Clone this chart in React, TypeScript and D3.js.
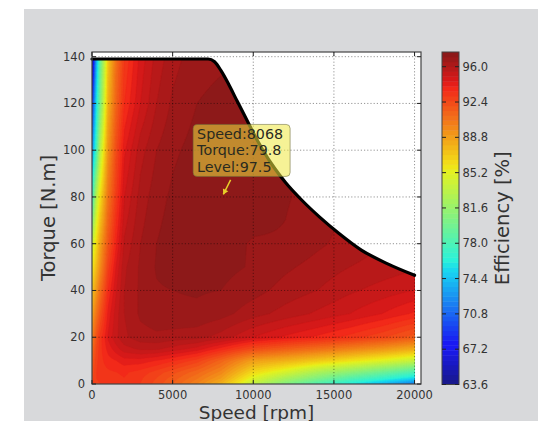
import React, { useMemo } from "react";
import * as d3 from "d3";

// ---------- data ----------
const SPEEDS = [0, 250, 500, 1000, 1500, 2000, 3000, 4000, 5000, 6500, 8000, 10000, 12000, 14000, 16000, 18000, 20000];
const TORQUES = [0, 2.5, 5, 10, 15, 20, 30, 40, 50, 60, 80, 100, 120, 140];

const EFF_T0 = [92.5, 92.8, 93.0, 93.2, 93.3, 93.4, 93.0, 92.3, 91.5, 90.0, 88.0, 83.5, 80.5, 78.0, 76.0, 74.0, 71.5];
const EFF_T2_5 = [92.3, 93.0, 93.2, 93.3, 93.4, 93.5, 93.1, 92.5, 91.8, 90.6, 89.0, 85.0, 82.5, 80.5, 78.5, 77.0, 75.3];
const EFF_T5 = [92.0, 93.0, 93.3, 93.4, 93.5, 93.6, 93.3, 92.8, 92.2, 91.2, 89.8, 86.3, 84.5, 82.5, 81.0, 79.5, 78.0];
const EFF_T10 = [91.5, 92.8, 93.3, 93.8, 94.0, 94.3, 94.3, 94.0, 93.6, 92.8, 91.3, 88.8, 88.0, 87.0, 86.0, 85.0, 83.8];
const EFF_T15 = [90.8, 92.5, 93.3, 94.2, 94.8, 95.3, 95.6, 95.6, 95.3, 94.8, 93.8, 92.3, 91.5, 90.8, 90.0, 89.2, 88.2];
const EFF_T20 = [90.0, 92.0, 93.2, 94.6, 95.4, 95.9, 96.3, 96.4, 96.3, 96.2, 95.8, 95.0, 94.4, 93.9, 93.3, 92.6, 91.7];
const EFF_T30 = [88.5, 90.5, 92.0, 94.2, 95.3, 96.0, 96.6, 96.8, 96.9, 96.9, 96.7, 96.2, 95.8, 95.4, 95.0, 94.5, 93.9];
const EFF_T40 = [87.0, 89.0, 90.8, 93.6, 95.0, 96.0, 96.6, 96.95, 97.0, 97.05, 97.0, 96.7, 96.3, 96.0, 95.6, 95.3, 95.0];
const EFF_T50 = [85.5, 87.5, 89.5, 92.8, 94.6, 95.9, 96.6, 97.05, 97.2, 97.3, 97.15, 96.95, 96.6, 96.3, 96.0, 95.8, 95.6];
const EFF_T60 = [84.0, 86.0, 88.5, 91.9, 94.0, 95.6, 96.5, 97.0, 97.25, 97.4, 97.2, 96.95, 96.95, 96.6, 96.3, 96.0, 95.8];
const EFF_T80 = [76.5, 83.0, 86.0, 90.5, 93.0, 95.0, 96.2, 96.8, 97.1, 97.4, 97.45, 97.3, 97.05, 96.8, 96.5, 96.2, 96.0];
const EFF_T100 = [72.5, 77.0, 83.0, 89.2, 92.3, 94.4, 95.8, 96.5, 96.9, 97.2, 97.35, 97.25, 97.0, 96.8, 96.5, 96.2, 96.0];
const EFF_T120 = [68.0, 75.0, 80.0, 88.0, 91.3, 93.5, 95.0, 96.0, 96.6, 97.0, 97.15, 97.1, 96.9, 96.7, 96.5, 96.2, 96.0];
const EFF_T140 = [63.6, 72.5, 79.0, 87.0, 90.7, 93.0, 94.7, 95.7, 96.3, 96.8, 96.9, 96.9, 96.8, 96.6, 96.4, 96.2, 96.0];

const EFFICIENCY = [EFF_T0, EFF_T2_5, EFF_T5, EFF_T10, EFF_T15, EFF_T20, EFF_T30, EFF_T40, EFF_T50, EFF_T60, EFF_T80, EFF_T100, EFF_T120, EFF_T140];

const BOUNDARY_SPEED = [0, 7200, 7600, 8000, 8450, 9000, 9500, 10000, 10600, 11300, 12000, 13000, 14100, 15300, 16700, 18300, 20000];
const BOUNDARY_TORQUE = [139, 139, 137.8, 134, 128.5, 121, 114.3, 107.5, 100, 92.5, 86.2, 78.7, 71.5, 64.5, 57.3, 51.5, 46.5];

const X_TICKS = [0, 5000, 10000, 15000, 20000];
const Y_TICKS = [0, 20, 40, 60, 80, 100, 120, 140];
const CBAR_TICKS = [63.6, 67.2, 70.8, 74.4, 78.0, 81.6, 85.2, 88.8, 92.4, 96.0];
const LEVEL_MIN = 63.6;
const LEVEL_MAX = 97.5;
const LEVEL_COUNT = 68;

const ANNOT_SPEED = 8068;
const ANNOT_TORQUE = 79.8;
const ANNOT_LEVEL = 97.5;

// ---------- styling ----------
const W = 538;
const H = 421;
const PLOT = { left: 92, right: 421, top: 52, bottom: 384 };
const CBAR = { left: 442, right: 459, top: 52, bottom: 384.5 };
const FONT = "DejaVu Sans";

const JET_R: number[][] = [[0, 0], [0.35, 0], [0.66, 1], [0.89, 1], [1, 0.5]];
const JET_G: number[][] = [[0, 0], [0.125, 0], [0.375, 1], [0.64, 1], [0.91, 0], [1, 0]];
const JET_B: number[][] = [[0, 0.5], [0.11, 1], [0.34, 1], [0.65, 0], [1, 0]];

function seg(stops: number[][], t: number) {
  if (t <= stops[0][0]) return stops[0][1];
  for (let i = 1; i < stops.length; i++) {
    if (t <= stops[i][0]) {
      const [t0, v0] = stops[i - 1];
      const [t1, v1] = stops[i];
      return v0 + ((t - t0) / (t1 - t0)) * (v1 - v0);
    }
  }
  return stops[stops.length - 1][1];
}

function jet(t: number) {
  const c = d3.rgb(seg(JET_R, t) * 255, seg(JET_G, t) * 255, seg(JET_B, t) * 255);
  return d3.interpolateRgb(c, "#a8a8a8")(0.15);
}

function interp(s: number, t: number) {
  const nS = SPEEDS.length, nT = TORQUES.length;
  let i = d3.bisectRight(SPEEDS, s) - 1;
  i = Math.max(0, Math.min(nS - 2, i));
  let j = d3.bisectRight(TORQUES, t) - 1;
  j = Math.max(0, Math.min(nT - 2, j));
  const fs = Math.max(0, Math.min(1, (s - SPEEDS[i]) / (SPEEDS[i + 1] - SPEEDS[i])));
  const ft = Math.max(0, Math.min(1, (t - TORQUES[j]) / (TORQUES[j + 1] - TORQUES[j])));
  const z = EFFICIENCY;
  return (
    (1 - fs) * (1 - ft) * z[j][i] +
    fs * (1 - ft) * z[j][i + 1] +
    (1 - fs) * ft * z[j + 1][i] +
    fs * ft * z[j + 1][i + 1]
  );
}

export default function App() {
  const x = d3.scaleLinear().domain([0, 20400]).range([PLOT.left, PLOT.right]);
  const y = d3.scaleLinear().domain([0, 142]).range([PLOT.bottom, PLOT.top]);
  const cy = d3.scaleLinear().domain([LEVEL_MIN, LEVEL_MAX]).range([CBAR.bottom, CBAR.top]);

  const levels = d3.range(LEVEL_COUNT + 1).map((k) => LEVEL_MIN + (k * (LEVEL_MAX - LEVEL_MIN)) / LEVEL_COUNT);
  const bandColor = (k: number) => jet(((levels[k] + levels[k + 1]) / 2 - LEVEL_MIN) / (LEVEL_MAX - LEVEL_MIN));

  const bands = useMemo(() => {
    const dS = 100, dT = 0.5;
    const nx = 205, ny = 285;
    const values = new Array(nx * ny);
    for (let j = 0; j < ny; j++) {
      for (let i = 0; i < nx; i++) values[j * nx + i] = interp(i * dS, j * dT);
    }
    const proj = d3.geoTransform({
      point: function (px: number, py: number) {
        (this as any).stream.point(x((px - 0.5) * dS), y((py - 0.5) * dT));
      },
    });
    const path = d3.geoPath(proj as any);
    const thr = levels.slice(0, LEVEL_COUNT).map((v, k) => (k === 0 ? -1 : v));
    const cs = d3.contours().size([nx, ny]).thresholds(thr)(values);
    return cs.map((c, k) => ({ d: path(c as any) || "", color: bandColor(k) }));
  }, []);

  const boundaryPts = BOUNDARY_SPEED.map((s, i) => [s, BOUNDARY_TORQUE[i]] as [number, number]);
  const curve = d3.curveMonotoneX;
  const area = d3
    .area<[number, number]>()
    .x((d) => x(d[0]))
    .y0(() => y(0))
    .y1((d) => y(d[1]))
    .curve(curve)(boundaryPts) || "";
  const line = d3
    .line<[number, number]>()
    .x((d) => x(d[0]))
    .y((d) => y(d[1]))
    .curve(curve)(boundaryPts) || "";

  const px = x(ANNOT_SPEED);
  const py = y(ANNOT_TORQUE);
  const boxX = px - 29;
  const boxY = py - 73;
  const arrowFrom: [number, number] = [px + 8.5, py - 17.5];
  const arrowTo: [number, number] = [px + 1.2, py - 3];
  const ang = Math.atan2(arrowTo[1] - arrowFrom[1], arrowTo[0] - arrowFrom[0]);
  const hl = 5, hw = 3;
  const head = [
    arrowTo,
    [arrowTo[0] - hl * Math.cos(ang) + hw * Math.sin(ang), arrowTo[1] - hl * Math.sin(ang) - hw * Math.cos(ang)],
    [arrowTo[0] - hl * Math.cos(ang) - hw * Math.sin(ang), arrowTo[1] - hl * Math.sin(ang) + hw * Math.cos(ang)],
  ];

  const tickColor = "#333";
  return (
    <svg width={W} height={H} style={{ position: "absolute", left: 0, top: 0 }} fontFamily={FONT}>
      <rect width={W} height={H} fill="#fff" />
      <rect x={24} y={9} width={W - 24} height={H - 9} fill="#d8d9db" />
      <rect x={PLOT.left} y={PLOT.top} width={PLOT.right - PLOT.left} height={PLOT.bottom - PLOT.top} fill="#fff" />
      <defs>
        <clipPath id="effClip">
          <path d={area} />
        </clipPath>
      </defs>
      <g clipPath="url(#effClip)">
        {bands.map((b, k) => (
          <path key={k} d={b.d} fill={b.color} stroke={b.color} strokeWidth={0.3} />
        ))}
      </g>
      {/* grid */}
      <g stroke="#000" strokeOpacity={0.42} strokeWidth={1} strokeDasharray="1.2,2">
        {X_TICKS.filter((t) => t > 0).map((t) => (
          <line key={"gx" + t} x1={x(t)} x2={x(t)} y1={PLOT.top} y2={PLOT.bottom} />
        ))}
        {Y_TICKS.filter((t) => t > 0).map((t) => (
          <line key={"gy" + t} x1={PLOT.left} x2={PLOT.right} y1={y(t)} y2={y(t)} />
        ))}
      </g>
      <path d={line} fill="none" stroke="#000" strokeWidth={3.2} strokeLinecap="round" />
      {/* frame and ticks */}
      <rect
        x={PLOT.left}
        y={PLOT.top}
        width={PLOT.right - PLOT.left}
        height={PLOT.bottom - PLOT.top}
        fill="none"
        stroke="#444"
        strokeWidth={1.2}
      />
      <g stroke="#222" strokeWidth={1}>
        {X_TICKS.map((t) => (
          <g key={"tx" + t}>
            <line x1={x(t)} x2={x(t)} y1={PLOT.bottom} y2={PLOT.bottom - 4} />
            <line x1={x(t)} x2={x(t)} y1={PLOT.top} y2={PLOT.top + 4} />
          </g>
        ))}
        {Y_TICKS.map((t) => (
          <g key={"ty" + t}>
            <line x1={PLOT.left} x2={PLOT.left + 4} y1={y(t)} y2={y(t)} />
            <line x1={PLOT.right} x2={PLOT.right - 4} y1={y(t)} y2={y(t)} />
          </g>
        ))}
      </g>
      <g fill={tickColor} fontSize={11.5}>
        {X_TICKS.map((t) => (
          <text key={"lx" + t} x={x(t)} y={398.5} textAnchor="middle">
            {t}
          </text>
        ))}
        {Y_TICKS.map((t) => (
          <text key={"ly" + t} x={85} y={y(t) + 4} textAnchor="end">
            {t}
          </text>
        ))}
      </g>
      {/* annotation */}
      <rect
        x={boxX}
        y={boxY}
        width={97}
        height={52}
        rx={4}
        fill="#eee840"
        fillOpacity={0.55}
        stroke="#6a6a3a"
        strokeOpacity={0.55}
        strokeWidth={1}
      />
      <g fill="#2a2a20" fontSize={14.3}>
        <text x={boxX + 4} y={boxY + 14.5}>{`Speed:${ANNOT_SPEED}`}</text>
        <text x={boxX + 4} y={boxY + 31}>{`Torque:${ANNOT_TORQUE}`}</text>
        <text x={boxX + 4} y={boxY + 47.5}>{`Level:${ANNOT_LEVEL}`}</text>
      </g>
      <line x1={arrowFrom[0]} y1={arrowFrom[1]} x2={arrowTo[0]} y2={arrowTo[1]} stroke="#e8cf2a" strokeWidth={1.5} />
      <polygon points={head.map((p) => p.join(",")).join(" ")} fill="#e8cf2a" />
      {/* colorbar */}
      {levels.slice(0, LEVEL_COUNT).map((v, k) => (
        <rect
          key={"cb" + k}
          x={CBAR.left}
          width={CBAR.right - CBAR.left}
          y={cy(levels[k + 1])}
          height={cy(levels[k]) - cy(levels[k + 1]) + 0.4}
          fill={bandColor(k)}
        />
      ))}
      <rect
        x={CBAR.left}
        y={CBAR.top}
        width={CBAR.right - CBAR.left}
        height={CBAR.bottom - CBAR.top}
        fill="none"
        stroke="#444"
        strokeWidth={1}
      />
      <g stroke="#222" strokeWidth={1}>
        {CBAR_TICKS.map((t) => (
          <g key={"ct" + t}>
            <line x1={CBAR.right} x2={CBAR.right - 4} y1={cy(t)} y2={cy(t)} />
            <line x1={CBAR.left} x2={CBAR.left + 4} y1={cy(t)} y2={cy(t)} />
          </g>
        ))}
      </g>
      <g fill={tickColor} fontSize={11.5}>
        {CBAR_TICKS.map((t) => (
          <text key={"cl" + t} x={462.5} y={cy(t) + 4}>
            {t.toFixed(1)}
          </text>
        ))}
      </g>
      {/* axis labels */}
      <text x={(PLOT.left + PLOT.right) / 2} y={418.5} textAnchor="middle" fontSize={18.5} fill={tickColor}>
        Speed [rpm]
      </text>
      <text
        transform={`translate(55,${(PLOT.top + PLOT.bottom) / 2}) rotate(-90)`}
        textAnchor="middle"
        fontSize={19.5}
        fill={tickColor}
      >
        Torque [N.m]
      </text>
      <text
        transform={`translate(509,${(CBAR.top + CBAR.bottom) / 2}) rotate(-90)`}
        textAnchor="middle"
        fontSize={19.5}
        fill={tickColor}
      >
        Efficiency [%]
      </text>
    </svg>
  );
}
